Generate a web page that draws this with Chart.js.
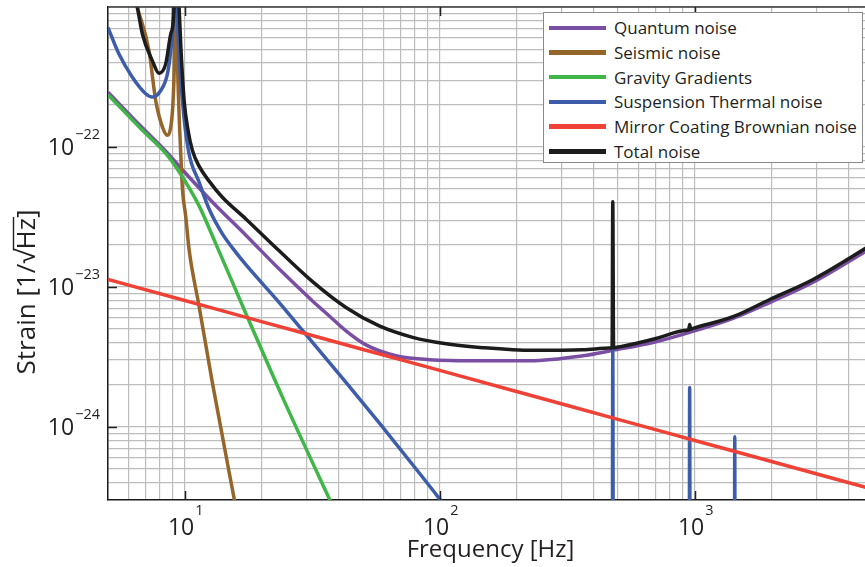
<!DOCTYPE html>
<html><head><meta charset="utf-8">
<script src="https://cdn.jsdelivr.net/npm/chart.js@4.4.1/dist/chart.umd.min.js"></script>
<style>
html,body{margin:0;padding:0;background:#fff;overflow:hidden;width:865px;height:567px}
#wrap{position:relative;width:874px;height:567px}
canvas{display:block}
#legend{position:absolute;left:543px;top:12px;width:320px;height:151px;border:1.5px solid #8a8a8a;background:#fff;box-sizing:border-box;font-family:'Open Sans',sans-serif;font-size:17px;color:#231f20;padding-top:2.5px}
.row{height:24.7px;display:flex;align-items:center;white-space:nowrap}
.sw{width:57px;height:4.5px;margin-left:5px;margin-right:8px;flex:none}
</style></head><body>
<div id="wrap"><canvas id="c" width="874" height="567"></canvas><div id="legend"></div></div>
<script>
// ---- data (frequency in Hz, strain in 1/sqrt(Hz)) ----
const seriesNames = ['Quantum noise','Seismic noise','Gravity Gradients','Suspension Thermal noise','Mirror Coating Brownian noise','Total noise'];
const seriesColors = ['#7a4fa3','#96652a','#40b649','#3d5daa','#ef4136','#1c1c1c'];

const quantumF = [5, 6.82, 8.42, 9.5, 12.83, 17.36, 23.46, 31.7, 36.87, 42.87, 51.36, 67.36, 91, 143, 224.8, 364, 477, 685, 955, 1413, 1968, 2911, 5000];
const quantumV = [2.46e-22, 1.37e-22, 9.32e-23, 7.3e-23, 4.04e-23, 2.34e-23, 1.34e-23, 7.93e-24, 6.2e-24, 4.85e-24, 3.85e-24, 3.22e-24, 3.02e-24, 2.97e-24, 2.97e-24, 3.22e-24, 3.52e-24, 4.0e-24, 4.73e-24, 5.95e-24, 7.73e-24, 1.08e-23, 1.93e-23];

const seismicF = [5.8, 6.2, 6.52, 7.24, 7.69, 8.17, 8.55, 8.81, 9.0, 9.12, 9.23, 9.35, 9.46, 9.63, 9.8, 10.09, 10.4, 11.38, 12.83, 15.62, 17.09];
const seismicV = [2.2e-21, 1.4e-21, 9.9e-22, 4.87e-22, 2.15e-22, 1.39e-22, 1.21e-22, 1.39e-22, 2.15e-22, 4.87e-22, 5e-21, 4.87e-22, 2.15e-22, 9.48e-23, 4.92e-23, 3.18e-23, 1.84e-23, 7.28e-24, 2.07e-24, 3.07e-25, 1.3e-25];

const gravityF = [5, 6.82, 8.42, 9.5, 11.38, 13.24, 17.36, 24.16, 36.87, 42.2];
const gravityV = [2.36e-22, 1.315e-22, 8.98e-23, 6.64e-23, 3.79e-23, 2.03e-23, 6.46e-24, 1.63e-24, 3.07e-25, 1.82e-25];

const suspensionF = [5, 5.52, 6.23, 7.03, 7.46, 8.05, 8.55, 8.81, 9.0, 9.16, 9.37, 9.79, 10.33, 11.38, 12.46, 14.05, 15.38, 17.36, 23.46, 29.4, 42.87, 57.9, 78.3, 99.6, 130.7, 200, 470, 474, 477, 480, 700, 950, 955, 960, 1200, 1430, 1435, 1440, 2000, 5000];
const suspensionV = [7.13e-22, 4.61e-22, 3.15e-22, 2.4e-22, 2.27e-22, 2.53e-22, 3.33e-22, 4.87e-22, 7.96e-22, 5e-21, 7.96e-22, 2.15e-22, 9.48e-23, 5.61e-23, 3.6e-23, 2.39e-23, 1.9e-23, 1.44e-23, 7.73e-24, 4.73e-24, 2.08e-24, 1.066e-24, 5.36e-25, 3.07e-25, 1.59e-25, 5e-26, 1e-26, 1e-26, 3.55e-24, 1e-26, 1e-26, 1e-26, 1.91e-24, 1e-26, 1e-26, 1e-26, 8.5e-25, 1e-26, 1e-26, 1e-26];

const mirrorF = [5, 10, 20, 50, 100, 200, 500, 1000, 2000, 5000];
const mirrorV = [1.13e-23, 7.99e-24, 5.65e-24, 3.57e-24, 2.53e-24, 1.79e-24, 1.13e-24, 7.99e-25, 5.65e-25, 3.57e-25];

const totalF = [6.2, 6.52, 6.82, 7.46, 7.93, 8.42, 8.81, 9.08, 9.2, 9.5, 9.67, 9.94, 10.3, 10.71, 11.38, 12.46, 14.01, 17.36, 23.46, 31.7, 42.87, 57.9, 78.3, 105.9, 147.4, 231.6, 364, 465, 474, 477, 480.4, 490, 685, 930, 946, 955, 963.6, 985, 1413, 1968, 2911, 5000];
const totalV = [1.5e-21, 9.9e-22, 6.41e-22, 4.14e-22, 3.36e-22, 3.92e-22, 6.41e-22, 9.9e-22, 5e-21, 9.9e-22, 4.87e-22, 2.15e-22, 1.315e-22, 9.47e-23, 7.29e-23, 5.7e-23, 4.39e-23, 3.06e-23, 1.81e-23, 1.09e-23, 7.13e-24, 5.26e-24, 4.36e-24, 3.92e-24, 3.68e-24, 3.52e-24, 3.55e-24, 3.66e-24, 3.67e-24, 4.06e-23, 3.68e-24, 3.69e-24, 4.22e-24, 4.89e-24, 4.93e-24, 5.39e-24, 4.98e-24, 5.05e-24, 6.12e-24, 8.13e-24, 1.13e-23, 2.03e-23];

const xTickValues = [10, 100, 1000];
const xTickExps = ['1', '2', '3'];
const yTickValues = [1e-24, 1e-23, 1e-22];
const yTickExps = ['\u221224', '\u221223', '\u221222'];
const xTitle = 'Frequency [Hz]';
const yTitleParts = ['Strain [1/', '\u221A', 'Hz', ']'];

// ---- chart ----
const seriesF = [quantumF, seismicF, gravityF, suspensionF, mirrorF, totalF];
const seriesV = [quantumV, seismicV, gravityV, suspensionV, mirrorV, totalV];

function gridValues(min, max) {
  const out = [];
  for (let e = Math.floor(Math.log10(min)); e <= Math.ceil(Math.log10(max)); e++) {
    for (let m = 1; m <= 9; m++) {
      const v = m * Math.pow(10, e);
      if (v >= min * 0.9999 && v <= max * 1.0001) out.push(v);
    }
  }
  return out;
}

const X_MIN = 5, X_MAX = 5000, Y_MIN = 3.04e-25, Y_MAX = 1e-21;
const FONT = "'Open Sans', sans-serif";
const TXT = '#231f20';

const datasets = seriesNames.map((name, i) => ({
  label: name,
  data: seriesF[i].map((f, j) => ({x: f, y: seriesV[i][j]})),
  borderColor: seriesColors[i],
  backgroundColor: seriesColors[i],
  borderWidth: 3.5,
  pointRadius: 0,
  fill: false,
  cubicInterpolationMode: 'monotone',
  clip: 0,
  order: 6 - i
}));

const matlabAxes = {
  id: 'matlabAxes',
  afterDraw(chart) {
    const ctx = chart.ctx, a = chart.chartArea;
    const xs = chart.scales.x, ys = chart.scales.y;
    ctx.save();
    ctx.strokeStyle = '#3a3a3a'; ctx.lineWidth = 1.5;
    ctx.beginPath(); ctx.moveTo(a.left, a.top); ctx.lineTo(a.right, a.top); ctx.stroke();
    ctx.strokeStyle = '#222'; ctx.lineWidth = 1.5;
    xTickValues.forEach(v => {
      const px = Math.round(xs.getPixelForValue(v)) + 0.5;
      ctx.beginPath();
      ctx.moveTo(px, a.bottom); ctx.lineTo(px, a.bottom - 9);
      ctx.moveTo(px, a.top); ctx.lineTo(px, a.top + 9);
      ctx.stroke();
    });
    yTickValues.forEach(v => {
      const py = Math.round(ys.getPixelForValue(v)) + 0.5;
      ctx.beginPath(); ctx.moveTo(a.left, py); ctx.lineTo(a.left + 9, py); ctx.stroke();
    });
    ctx.fillStyle = TXT;
    ctx.textBaseline = 'alphabetic';
    const bigF = '23px ' + FONT, smallF = '14.5px ' + FONT;
    // x tick labels
    xTickValues.forEach((v, i) => {
      const px = xs.getPixelForValue(v);
      ctx.font = bigF; const w1 = ctx.measureText('10').width;
      ctx.font = smallF; const w2 = ctx.measureText(xTickExps[i]).width;
      const x0 = px + 1 - (w1 + 1 + w2) / 2;
      ctx.textAlign = 'left';
      ctx.font = bigF; ctx.fillText('10', x0, a.bottom + 35);
      ctx.font = smallF; ctx.fillText(xTickExps[i], x0 + w1 + 1, a.bottom + 15);
    });
    // y tick labels
    yTickValues.forEach((v, i) => {
      const py = ys.getPixelForValue(v);
      ctx.font = smallF; const w2 = ctx.measureText(yTickExps[i]).width;
      ctx.textAlign = 'right';
      ctx.fillText(yTickExps[i], 100, py - 8);
      ctx.font = bigF; ctx.fillText('10', 100 - w2 - 1, py + 8.5);
    });
    // y title
    ctx.translate(35, 292);
    ctx.rotate(-Math.PI / 2);
    ctx.font = '26px ' + FONT;
    ctx.textAlign = 'left';
    const ws = yTitleParts.map(s => ctx.measureText(s).width);
    const W = ws.reduce((p, c) => p + c, 0);
    let x = -W / 2;
    const starts = [];
    yTitleParts.forEach((s, i) => { starts.push(x); ctx.fillText(s, x, 0); x += ws[i]; });
    ctx.strokeStyle = TXT; ctx.lineWidth = 1.4;
    ctx.beginPath();
    ctx.moveTo(starts[2] - 1, -21.5); ctx.lineTo(starts[2] + ws[2] + 1, -21.5);
    ctx.stroke();
    ctx.restore();
  }
};

const gridOpts = {color: '#bdbdbd', lineWidth: 1.2, drawTicks: false};

new Chart(document.getElementById('c'), {
  type: 'line',
  data: {datasets},
  options: {
    responsive: false, animation: false, devicePixelRatio: 1,
    layout: {padding: {top: 7, right: 1, left: 0, bottom: 0}},
    plugins: {legend: {display: false}, tooltip: {enabled: false}},
    scales: {
      x: {
        type: 'logarithmic', position: 'bottom', min: X_MIN, max: X_MAX,
        ticks: {display: false}, grid: gridOpts,
        border: {display: true, color: '#1a1a1a', width: 1.5},
        title: {display: true, text: xTitle, color: TXT, font: {family: FONT, size: 24}, padding: {top: 0, bottom: 2}},
        afterBuildTicks: s => { s.ticks = gridValues(X_MIN, X_MAX).map(v => ({value: v})); },
        afterFit: s => { s.height = 67; }
      },
      y: {
        type: 'logarithmic', position: 'left', min: Y_MIN, max: Y_MAX,
        ticks: {display: false}, grid: gridOpts,
        border: {display: true, color: '#1a1a1a', width: 1.5},
        afterBuildTicks: s => { s.ticks = gridValues(Y_MIN, Y_MAX).map(v => ({value: v})); },
        afterFit: s => { s.width = 108; }
      }
    }
  },
  plugins: [matlabAxes]
});

// legend (HTML), built from the series arrays
const lg = document.getElementById('legend');
seriesNames.forEach((n, i) => {
  const r = document.createElement('div'); r.className = 'row';
  const sw = document.createElement('div'); sw.className = 'sw'; sw.style.background = seriesColors[i];
  const t = document.createElement('span'); t.textContent = n;
  r.appendChild(sw); r.appendChild(t); lg.appendChild(r);
});
</script>
</body></html>
